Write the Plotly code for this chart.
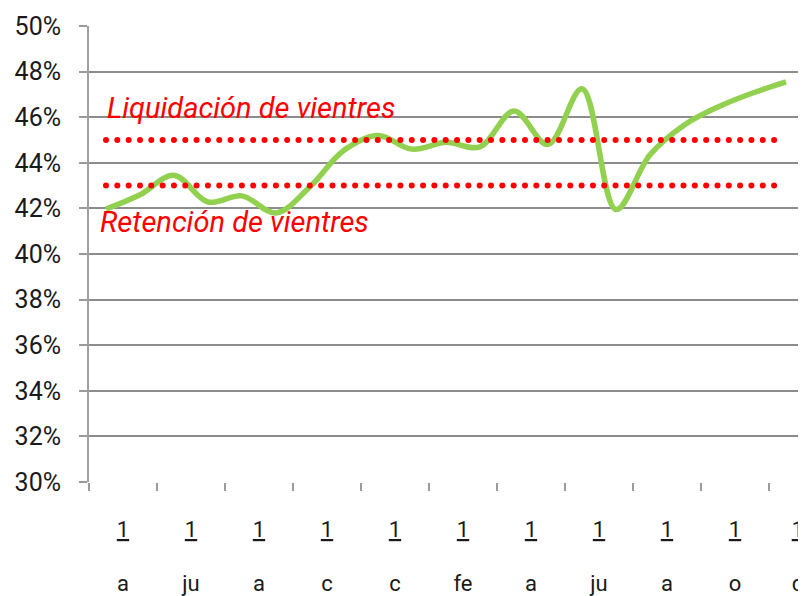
import numpy as np
import plotly.graph_objects as go

# Data (percent), one point per category
values = [41.97, 42.6, 43.45, 42.28, 42.55, 41.8, 42.95, 44.55, 45.2, 44.6,
          44.9, 44.7, 46.27, 44.8, 47.25, 41.95, 44.35, 45.65, 46.45, 47.05, 47.55]
categories = list(range(len(values)))

thresholds = [45.0, 43.0]
threshold_names = ["Liquidación de vientres", "Retención de vientres"]
threshold_span = [0.0, 19.65]

tick_label_top = ["<u>1</u>"] * 11
tick_label_bottom = ["a", "ju", "a", "c", "c", "fe", "a", "ju", "a", "o", "d"]
y_ticks = list(range(30, 51, 2))

fig = go.Figure()

fig.add_trace(go.Scatter(
    x=categories, y=values, mode="lines",
    line=dict(color="#92D050", width=5.5, shape="spline", smoothing=1.0),
    hoverinfo="skip", showlegend=False))

dot_x = np.linspace(threshold_span[0], threshold_span[1], 60)
for t in thresholds:
    fig.add_trace(go.Scatter(
        x=dot_x, y=[t] * len(dot_x), mode="markers",
        marker=dict(color="#FF0000", size=6, line=dict(width=0)),
        hoverinfo="skip", showlegend=False))

n = len(categories)
boundary_ticks = [-0.5 + 2 * k for k in range(11)]
label_pos = [0.5 + 2 * k for k in range(10)] + [20.35]

font_family = "Roboto"
fig.update_layout(
    width=798, height=588,
    margin=dict(l=81, r=3, t=18, b=114),
    paper_bgcolor="white", plot_bgcolor="white",
    font=dict(family=font_family, color="#1a1a1a"),
    xaxis=dict(range=[-0.5, n - 0.5], tickmode="array", tickvals=boundary_ticks,
               ticktext=[""] * len(boundary_ticks), ticks="outside", ticklen=8,
               tickwidth=2, tickcolor="#9a9a9a", showgrid=False, showline=False,
               zeroline=False, automargin=False),
    xaxis2=dict(overlaying="x", side="bottom", anchor="y", range=[-0.5, n - 0.5],
                tickmode="array", tickvals=label_pos, ticktext=tick_label_top,
                ticks="", showgrid=False, showline=False, zeroline=False,
                tickfont=dict(size=22, color="#1a1a1a"), ticklabelstandoff=32,
                automargin=False),
    xaxis3=dict(overlaying="x", side="bottom", anchor="y", range=[-0.5, n - 0.5],
                tickmode="array", tickvals=label_pos, ticktext=tick_label_bottom,
                ticks="", showgrid=False, showline=False, zeroline=False,
                tickfont=dict(size=22, color="#1a1a1a"), ticklabelstandoff=86,
                automargin=False),
    yaxis=dict(range=[30, 50], tickmode="array", tickvals=y_ticks,
               ticktext=[f"{v}%" for v in y_ticks], ticks="outside", ticklen=8,
               tickwidth=2, tickcolor="#9a9a9a", showgrid=True, gridcolor="#8c8c8c",
               gridwidth=2, showline=True, linecolor="#a0a0a0", linewidth=2,
               zeroline=False, tickfont=dict(size=25, color="#1a1a1a"),
               ticklabelstandoff=13, automargin=False),
    annotations=[
        dict(text="<i>" + threshold_names[0] + "</i>", xref="paper", yref="paper",
             x=0.023, y=0.82, xanchor="left", yanchor="middle", showarrow=False,
             font=dict(size=29, color="#FF0000", family=font_family)),
        dict(text="<i>" + threshold_names[1] + "</i>", xref="paper", yref="paper",
             x=0.013, y=0.57, xanchor="left", yanchor="middle", showarrow=False,
             font=dict(size=29, color="#FF0000", family=font_family)),
    ],
)
# attach invisible traces so overlay axes are drawn
fig.add_trace(go.Scatter(x=[None], y=[None], xaxis="x2", showlegend=False, hoverinfo="skip"))
fig.add_trace(go.Scatter(x=[None], y=[None], xaxis="x3", showlegend=False, hoverinfo="skip"))

fig.write_html("out.html")
